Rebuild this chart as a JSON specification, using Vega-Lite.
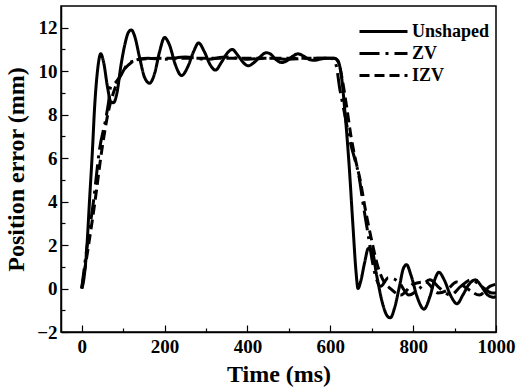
{
  "$schema": "https://vega.github.io/schema/vega-lite/v6.json",
  "width": 435,
  "height": 326,
  "autosize": {"type": "none"},
  "padding": {"left": 61, "top": 6, "right": 20, "bottom": 56},
  "background": "white",
  "config": {
    "view": {"stroke": "black", "strokeWidth": 1.5},
    "font": "Liberation Serif",
    "axis": {
      "domainColor": "black", "domainWidth": 1.5,
      "tickColor": "black", "tickWidth": 1.2,
      "labelFont": "Liberation Serif", "labelFontWeight": "bold", "labelFontSize": 19, "labelColor": "black",
      "titleFont": "Liberation Serif", "titleFontWeight": "bold", "titleFontSize": 24, "titleColor": "black",
      "grid": false
    },
    "legend": {"labelFont": "Liberation Serif", "labelFontWeight": "bold", "labelFontSize": 18, "labelColor": "black"}
  },
  "data": {"values": [
    {"s":"Unshaped","t":0,"v":0},{"s":"Unshaped","t":4,"v":0.3},{"s":"Unshaped","t":12,"v":1.8},{"s":"Unshaped","t":19,"v":4.1},{"s":"Unshaped","t":26,"v":6.4},{"s":"Unshaped","t":31,"v":8.3},{"s":"Unshaped","t":38,"v":10.0},{"s":"Unshaped","t":46,"v":10.8},{"s":"Unshaped","t":53,"v":10.4},{"s":"Unshaped","t":62,"v":9.3},{"s":"Unshaped","t":70,"v":8.6},{"s":"Unshaped","t":77,"v":8.55},{"s":"Unshaped","t":85,"v":9.0},{"s":"Unshaped","t":95,"v":10.3},{"s":"Unshaped","t":105,"v":11.3},{"s":"Unshaped","t":113,"v":11.8},{"s":"Unshaped","t":120,"v":11.9},{"s":"Unshaped","t":128,"v":11.6},{"s":"Unshaped","t":140,"v":10.6},{"s":"Unshaped","t":152,"v":9.7},{"s":"Unshaped","t":164,"v":9.45},{"s":"Unshaped","t":176,"v":9.9},{"s":"Unshaped","t":188,"v":10.9},{"s":"Unshaped","t":200,"v":11.55},{"s":"Unshaped","t":212,"v":11.2},{"s":"Unshaped","t":226,"v":10.3},{"s":"Unshaped","t":241,"v":9.8},{"s":"Unshaped","t":256,"v":10.2},{"s":"Unshaped","t":270,"v":10.9},{"s":"Unshaped","t":282,"v":11.3},{"s":"Unshaped","t":296,"v":10.9},{"s":"Unshaped","t":310,"v":10.3},{"s":"Unshaped","t":323,"v":10.05},{"s":"Unshaped","t":337,"v":10.4},{"s":"Unshaped","t":350,"v":10.8},{"s":"Unshaped","t":363,"v":11.0},{"s":"Unshaped","t":378,"v":10.7},{"s":"Unshaped","t":390,"v":10.4},{"s":"Unshaped","t":402,"v":10.25},{"s":"Unshaped","t":416,"v":10.4},{"s":"Unshaped","t":430,"v":10.65},{"s":"Unshaped","t":445,"v":10.85},{"s":"Unshaped","t":455,"v":10.8},{"s":"Unshaped","t":468,"v":10.55},{"s":"Unshaped","t":482,"v":10.4},{"s":"Unshaped","t":497,"v":10.5},{"s":"Unshaped","t":510,"v":10.7},{"s":"Unshaped","t":522,"v":10.8},{"s":"Unshaped","t":535,"v":10.7},{"s":"Unshaped","t":548,"v":10.55},{"s":"Unshaped","t":560,"v":10.5},{"s":"Unshaped","t":575,"v":10.55},{"s":"Unshaped","t":590,"v":10.6},{"s":"Unshaped","t":605,"v":10.6},{"s":"Unshaped","t":615,"v":10.55},{"s":"Unshaped","t":622,"v":10.3},{"s":"Unshaped","t":628,"v":9.6},{"s":"Unshaped","t":635,"v":8.2},{"s":"Unshaped","t":645,"v":5.8},{"s":"Unshaped","t":655,"v":2.8},{"s":"Unshaped","t":662,"v":0.8},{"s":"Unshaped","t":667,"v":0.0},{"s":"Unshaped","t":673,"v":0.3},{"s":"Unshaped","t":683,"v":1.2},{"s":"Unshaped","t":692,"v":1.85},{"s":"Unshaped","t":700,"v":1.8},{"s":"Unshaped","t":712,"v":0.6},{"s":"Unshaped","t":725,"v":-0.6},{"s":"Unshaped","t":737,"v":-1.25},{"s":"Unshaped","t":745,"v":-1.35},{"s":"Unshaped","t":755,"v":-0.9},{"s":"Unshaped","t":767,"v":0.1},{"s":"Unshaped","t":776,"v":0.9},{"s":"Unshaped","t":784,"v":1.1},{"s":"Unshaped","t":795,"v":0.6},{"s":"Unshaped","t":810,"v":-0.4},{"s":"Unshaped","t":826,"v":-0.95},{"s":"Unshaped","t":840,"v":-0.4},{"s":"Unshaped","t":852,"v":0.4},{"s":"Unshaped","t":862,"v":0.75},{"s":"Unshaped","t":875,"v":0.4},{"s":"Unshaped","t":890,"v":-0.3},{"s":"Unshaped","t":906,"v":-0.7},{"s":"Unshaped","t":920,"v":-0.3},{"s":"Unshaped","t":935,"v":0.2},{"s":"Unshaped","t":950,"v":0.4},{"s":"Unshaped","t":965,"v":0.1},{"s":"Unshaped","t":980,"v":-0.3},{"s":"Unshaped","t":995,"v":-0.4},{"s":"Unshaped","t":1000,"v":-0.35},
    {"s":"ZV","t":0,"v":0},{"s":"ZV","t":12,"v":1.8},{"s":"ZV","t":29,"v":4.1},{"s":"ZV","t":43,"v":6.4},{"s":"ZV","t":58,"v":7.8},{"s":"ZV","t":65,"v":8.6},{"s":"ZV","t":70,"v":9.3},{"s":"ZV","t":78,"v":9.4},{"s":"ZV","t":94,"v":9.8},{"s":"ZV","t":110,"v":10.3},{"s":"ZV","t":130,"v":10.5},{"s":"ZV","t":160,"v":10.6},{"s":"ZV","t":200,"v":10.55},{"s":"ZV","t":250,"v":10.65},{"s":"ZV","t":300,"v":10.55},{"s":"ZV","t":350,"v":10.65},{"s":"ZV","t":400,"v":10.55},{"s":"ZV","t":450,"v":10.6},{"s":"ZV","t":500,"v":10.55},{"s":"ZV","t":550,"v":10.6},{"s":"ZV","t":600,"v":10.6},{"s":"ZV","t":610,"v":10.5},{"s":"ZV","t":616,"v":10.1},{"s":"ZV","t":622,"v":9.3},{"s":"ZV","t":630,"v":8.5},{"s":"ZV","t":640,"v":7.5},{"s":"ZV","t":650,"v":6.6},{"s":"ZV","t":660,"v":5.9},{"s":"ZV","t":668,"v":5.3},{"s":"ZV","t":680,"v":3.8},{"s":"ZV","t":692,"v":2.4},{"s":"ZV","t":702,"v":1.2},{"s":"ZV","t":712,"v":0.4},{"s":"ZV","t":722,"v":0.1},{"s":"ZV","t":740,"v":0.5},{"s":"ZV","t":765,"v":0.3},{"s":"ZV","t":790,"v":-0.3},{"s":"ZV","t":815,"v":0.0},{"s":"ZV","t":840,"v":0.4},{"s":"ZV","t":865,"v":0.0},{"s":"ZV","t":890,"v":-0.3},{"s":"ZV","t":915,"v":0.1},{"s":"ZV","t":940,"v":0.4},{"s":"ZV","t":965,"v":0.1},{"s":"ZV","t":990,"v":-0.2},{"s":"ZV","t":1000,"v":-0.2},
    {"s":"IZV","t":0,"v":0},{"s":"IZV","t":15,"v":1.8},{"s":"IZV","t":32,"v":4.0},{"s":"IZV","t":48,"v":6.3},{"s":"IZV","t":65,"v":8.2},{"s":"IZV","t":80,"v":9.2},{"s":"IZV","t":100,"v":10.0},{"s":"IZV","t":120,"v":10.4},{"s":"IZV","t":140,"v":10.55},{"s":"IZV","t":200,"v":10.6},{"s":"IZV","t":300,"v":10.6},{"s":"IZV","t":400,"v":10.6},{"s":"IZV","t":500,"v":10.6},{"s":"IZV","t":610,"v":10.6},{"s":"IZV","t":620,"v":10.4},{"s":"IZV","t":630,"v":9.5},{"s":"IZV","t":640,"v":8.3},{"s":"IZV","t":650,"v":7.0},{"s":"IZV","t":660,"v":6.0},{"s":"IZV","t":672,"v":5.0},{"s":"IZV","t":685,"v":3.6},{"s":"IZV","t":700,"v":2.2},{"s":"IZV","t":715,"v":1.0},{"s":"IZV","t":730,"v":0.3},{"s":"IZV","t":745,"v":0.0},{"s":"IZV","t":770,"v":-0.3},{"s":"IZV","t":800,"v":0.2},{"s":"IZV","t":830,"v":0.3},{"s":"IZV","t":860,"v":-0.2},{"s":"IZV","t":880,"v":-0.1},{"s":"IZV","t":905,"v":0.3},{"s":"IZV","t":930,"v":0.0},{"s":"IZV","t":960,"v":-0.3},{"s":"IZV","t":985,"v":0.1},{"s":"IZV","t":1000,"v":0.2}
  ]},
  "mark": {"type": "line", "color": "black", "strokeWidth": 3, "interpolate": "monotone", "clip": true},
  "encoding": {
    "x": {"field": "t", "type": "quantitative",
      "scale": {"domain": [-50, 1000], "nice": false, "zero": false},
      "axis": {"title": "Time (ms)", "values": [0,100,200,300,400,500,600,700,800,900,1000], "format": "d",
        "labelExpr": "datum.value % 200 === 0 ? datum.label : ''",
        "tickSize": {"condition": {"test": "datum.value % 200 === 0", "value": -7}, "value": -4},
        "labelPadding": 12, "titlePadding": 6, "labelFlush": false}},
    "y": {"field": "v", "type": "quantitative",
      "scale": {"domain": [-2, 13], "nice": false, "zero": false},
      "axis": {"title": "Position error (mm)", "values": [-2,-1,0,1,2,3,4,5,6,7,8,9,10,11,12],
        "labelExpr": "datum.value % 2 === 0 ? datum.label : ''",
        "tickSize": {"condition": {"test": "datum.value % 2 === 0", "value": -7}, "value": -4},
        "labelPadding": 11, "titlePadding": 8, "labelFlush": false}},
    "strokeDash": {"field": "s", "type": "nominal",
      "scale": {"domain": ["Unshaped", "ZV", "IZV"], "range": [[1, 0], [20, 6, 3, 6], [10, 5]]},
      "legend": {"title": null, "orient": "none", "legendX": 313, "legendY": 16,
        "symbolType": "M-3,0H3", "symbolSize": 256, "symbolStrokeWidth": 3, "symbolStrokeColor": "black",
        "labelOffset": 19, "rowPadding": 3}}
  }
}
